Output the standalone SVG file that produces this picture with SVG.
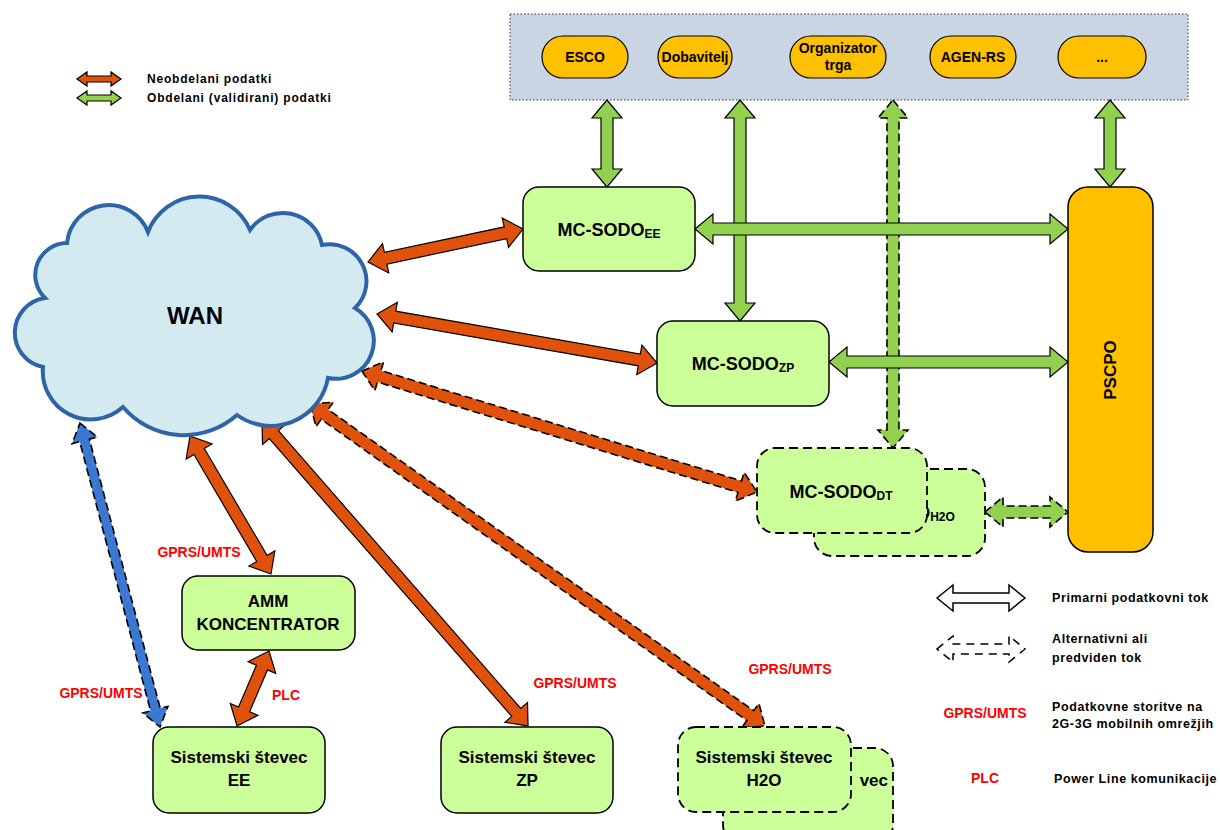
<svg xmlns="http://www.w3.org/2000/svg" width="1220" height="830" viewBox="0 0 1220 830">
  <style>
    .t { font-family: "Liberation Sans", Arial, sans-serif; font-weight: bold; fill: #000; }
    .red { fill: #ff0000; font-size: 14px; }
    .leg { font-size: 12.5px; letter-spacing: 0.6px; }
    .box { fill: #ccff99; stroke: #000; stroke-width: 1.5; }
    .dbox { fill: #ccff99; stroke: #000; stroke-width: 1.8; stroke-dasharray: 9 5; }
    .pill { fill: #ffc000; stroke: #000; stroke-width: 1.2; }
    .ao { fill: #e0520c; stroke: #000; stroke-width: 1.2; stroke-linejoin: miter; }
    .ag { fill: #92d050; stroke: #000; stroke-width: 1.2; }
    .ab { fill: #3a78d2; stroke: #000; stroke-width: 1.2; }
    .dash { stroke-width: 1.6; stroke-dasharray: 8 4; }
  </style>

  <rect width="1220" height="830" fill="#fff"/>

  <!-- legend, top left -->
  <g id="legend-top">
    <polygon class="ao" transform="translate(77,79)" points="0,0 10,-7 10,-3 34,-3 34,-7 44,0 34,7 34,3 10,3 10,7"/>
    <polygon class="ag" transform="translate(77,98)" points="0,0 10,-7 10,-3 34,-3 34,-7 44,0 34,7 34,3 10,3 10,7"/>
    <text class="t" x="147" y="83" font-size="12" letter-spacing="0.8">Neobdelani podatki</text>
    <text class="t" x="147" y="102" font-size="12" letter-spacing="0.8">Obdelani (validirani) podatki</text>
  </g>

  <!-- market participants panel -->
  <g id="participants">
    <rect x="510" y="14" width="678" height="86" fill="#c9d5e3" stroke="#333" stroke-width="1" stroke-dasharray="1.5 2"/>
  </g>
  <g id="esco">
    <rect class="pill" x="542" y="36" width="86" height="42" rx="21"/>
    <text class="t" x="585" y="62" font-size="14" text-anchor="middle">ESCO</text>
  </g>
  <g id="dobavitelj">
    <rect class="pill" x="658" y="36" width="74" height="42" rx="21"/>
    <text class="t" x="695" y="62" font-size="14" text-anchor="middle">Dobavitelj</text>
  </g>
  <g id="organizator">
    <rect class="pill" x="790" y="36" width="96" height="42" rx="21"/>
    <text class="t" x="838" y="53" font-size="14" text-anchor="middle">Organizator</text>
    <text class="t" x="838" y="70" font-size="14" text-anchor="middle">trga</text>
  </g>
  <g id="agen-rs">
    <rect class="pill" x="930" y="36" width="86" height="42" rx="21"/>
    <text class="t" x="973" y="62" font-size="14" text-anchor="middle">AGEN-RS</text>
  </g>
  <g id="others">
    <rect class="pill" x="1058" y="36" width="88" height="42" rx="21"/>
    <text class="t" x="1102" y="62" font-size="14" text-anchor="middle">...</text>
  </g>

  <!-- connectors -->
  <g id="connectors">
    <!-- processed data (green) -->
    <polygon class="ag" transform="translate(607,100) rotate(90)" points="0,0 18,-15 18,-6 69,-6 69,-15 87,0 69,15 69,6 18,6 18,15"/>
    <polygon class="ag" transform="translate(740,100) rotate(90)" points="0,0 18,-15 18,-6 203,-6 203,-15 221,0 203,15 203,6 18,6 18,15"/>
    <polygon class="ag dash" transform="translate(893,100) rotate(90)" points="0,0 18,-15 18,-6 330,-6 330,-15 348,0 330,15 330,6 18,6 18,15"/>
    <polygon class="ag" transform="translate(1110,100) rotate(90)" points="0,0 18,-15 18,-6 69,-6 69,-15 87,0 69,15 69,6 18,6 18,15"/>
    <polygon class="ag" transform="translate(695,229)" points="0,0 18,-15 18,-6 355,-6 355,-15 373,0 355,15 355,6 18,6 18,15"/>
    <polygon class="ag" transform="translate(829,362)" points="0,0 18,-15 18,-6 221,-6 221,-15 239,0 221,15 221,6 18,6 18,15"/>
    <polygon class="ag dash" transform="translate(985,512)" points="0,0 18,-15 18,-6 65,-6 65,-15 83,0 65,15 65,6 18,6 18,15"/>

    <!-- raw data (orange) -->
    <polygon class="ao" transform="translate(368,262) rotate(-12)" points="0,0 18,-15 18,-6 140.5,-6 140.5,-15 158.5,0 140.5,15 140.5,6 18,6 18,15"/>
    <polygon class="ao" transform="translate(377,314) rotate(9.93)" points="0,0 18,-15 18,-6 266.3,-6 266.3,-15 284.3,0 266.3,15 266.3,6 18,6 18,15"/>
    <polygon class="ao dash" transform="translate(362,371) rotate(17.03)" points="0,0 18,-15 18,-6 395.1,-6 395.1,-15 413.1,0 395.1,15 395.1,6 18,6 18,15"/>
    <polygon class="ao dash" transform="translate(310,404) rotate(35.29)" points="0,0 18,-15 18,-6 539.4,-6 539.4,-15 557.4,0 539.4,15 539.4,6 18,6 18,15"/>
    <polygon class="ao" transform="translate(262,421) rotate(48.9)" points="0,0 18,-15 18,-6 386.7,-6 386.7,-15 404.7,0 386.7,15 386.7,6 18,6 18,15"/>
    <polygon class="ao" transform="translate(190,436) rotate(59.59)" points="0,0 18,-15 18,-6 142,-6 142,-15 160,0 142,15 142,6 18,6 18,15"/>
    <polygon class="ao" transform="translate(269,651) rotate(113.1)" points="0,0 18,-15 18,-6 63.5,-6 63.5,-15 81.5,0 63.5,15 63.5,6 18,6 18,15"/>

    <!-- direct mobile link (blue) -->
    <polygon class="ab dash" transform="translate(80,423) rotate(75.26)" points="0,0 18,-13 18,-5 296.4,-5 296.4,-13 314.4,0 296.4,13 296.4,5 18,5 18,13"/>
  </g>

  <!-- WAN cloud -->
  <g id="wan">
    <path d="M45,298 A32,32 0 0 1 67,243 A42,42 0 0 1 148,232 A55,55 0 0 1 250,230 A40,40 0 0 1 322,245 A37,37 0 0 1 355,308 A38,38 0 0 1 328,378 A58,58 0 0 1 237,415 A80,80 0 0 1 123,407 A48,48 0 0 1 43,367 A35,35 0 0 1 45,298 Z" fill="#d2eaf0" stroke="#2f65a8" stroke-width="4" stroke-linejoin="miter"/>
    <text class="t" x="195" y="324" font-size="24" text-anchor="middle">WAN</text>
  </g>

  <!-- metering data centres -->
  <g id="mc-sodo-ee">
    <rect class="box" x="523" y="187" width="172" height="84" rx="16"/>
    <text class="t" x="609" y="236" font-size="18" text-anchor="middle">MC-SODO<tspan font-size="12" dy="2">EE</tspan></text>
  </g>
  <g id="mc-sodo-zp">
    <rect class="box" x="657" y="321" width="172" height="85" rx="16"/>
    <text class="t" x="743" y="370" font-size="18" text-anchor="middle">MC-SODO<tspan font-size="12" dy="2">ZP</tspan></text>
  </g>
  <g id="mc-sodo-h2o">
    <rect class="dbox" x="814" y="469" width="171" height="87" rx="18"/>
    <text class="t" x="899" y="519" font-size="18" text-anchor="middle">MC-SODO<tspan font-size="12" dy="2">H2O</tspan></text>
  </g>
  <g id="mc-sodo-dt">
    <rect class="dbox" x="757" y="448" width="170" height="85" rx="18"/>
    <text class="t" x="841" y="498" font-size="18" text-anchor="middle">MC-SODO<tspan font-size="12" dy="2">DT</tspan></text>
  </g>

  <g id="pscpo">
    <rect x="1068" y="187" width="85" height="365" rx="20" fill="#ffc000" stroke="#000" stroke-width="1.5"/>
    <text class="t" x="1116" y="370" font-size="17" text-anchor="middle" transform="rotate(-90 1116 370)">PSCPO</text>
  </g>

  <!-- concentrator and meters -->
  <g id="amm">
    <rect class="box" x="182" y="576" width="173" height="74" rx="16"/>
    <text class="t" x="268" y="607" font-size="17" text-anchor="middle">AMM</text>
    <text class="t" x="268" y="630" font-size="17" text-anchor="middle">KONCENTRATOR</text>
  </g>
  <g id="stevec-ee">
    <rect class="box" x="153" y="727" width="172" height="86" rx="16"/>
    <text class="t" x="239" y="763" font-size="17" text-anchor="middle">Sistemski števec</text>
    <text class="t" x="239" y="786" font-size="17" text-anchor="middle">EE</text>
  </g>
  <g id="stevec-zp">
    <rect class="box" x="441" y="727" width="172" height="86" rx="16"/>
    <text class="t" x="527" y="763" font-size="17" text-anchor="middle">Sistemski števec</text>
    <text class="t" x="527" y="786" font-size="17" text-anchor="middle">ZP</text>
  </g>
  <g id="stevec-dt">
    <rect class="dbox" x="723" y="748" width="170" height="95" rx="18"/>
    <!-- only the tail of this meter's label shows beside the front card -->
    <text class="t" x="888" y="786" font-size="17" text-anchor="end">vec</text>
  </g>
  <g id="stevec-h2o">
    <rect class="dbox" x="678" y="727" width="173" height="85" rx="18"/>
    <text class="t" x="764" y="763" font-size="17" text-anchor="middle">Sistemski števec</text>
    <text class="t" x="764" y="786" font-size="17" text-anchor="middle">H2O</text>
  </g>

  <!-- link labels -->
  <g id="labels">
    <text class="t red" x="199" y="557" text-anchor="middle">GPRS/UMTS</text>
    <text class="t red" x="101" y="698" text-anchor="middle">GPRS/UMTS</text>
    <text class="t red" x="286" y="700" text-anchor="middle">PLC</text>
    <text class="t red" x="575" y="688" text-anchor="middle">GPRS/UMTS</text>
    <text class="t red" x="790" y="674" text-anchor="middle">GPRS/UMTS</text>
  </g>

  <!-- legend, bottom right -->
  <g id="legend-bottom">
    <polygon transform="translate(937,598)" points="0,0 16,-13 16,-5 72,-5 72,-13 88,0 72,13 72,5 16,5 16,13" fill="#fff" stroke="#000" stroke-width="1.5"/>
    <polygon transform="translate(937,649)" points="0,0 16,-13 16,-5 72,-5 72,-13 88,0 72,13 72,5 16,5 16,13" fill="#fff" stroke="#000" stroke-width="1.5" stroke-dasharray="8 6"/>
    <text class="t leg" x="1052" y="602">Primarni podatkovni tok</text>
    <text class="t leg" x="1052" y="643">Alternativni ali</text>
    <text class="t leg" x="1052" y="662">predviden tok</text>
    <text class="t red" x="985" y="718" text-anchor="middle">GPRS/UMTS</text>
    <text class="t leg" x="1052" y="711">Podatkovne storitve na</text>
    <text class="t leg" x="1052" y="728">2G-3G mobilnih omrežjih</text>
    <text class="t red" x="985" y="783" text-anchor="middle">PLC</text>
    <text class="t leg" x="1054" y="783">Power Line komunikacije</text>
  </g>
</svg>
